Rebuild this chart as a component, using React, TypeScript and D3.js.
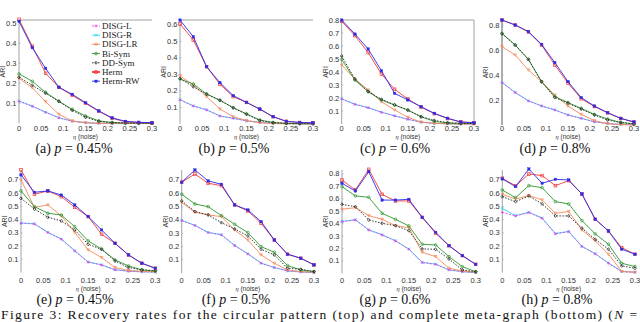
import React from "react";
import * as d3 from "d3";

// ---------- data ----------
const xs = [0, 0.03, 0.06, 0.09, 0.12, 0.15, 0.18, 0.21, 0.24, 0.27, 0.3];
const xTicks = [0, 0.05, 0.1, 0.15, 0.2, 0.25, 0.3];
const panelLetters = ["(a)", "(b)", "(c)", "(d)", "(e)", "(f)", "(g)", "(h)"];
const panelP = ["0.45%", "0.5%", "0.6%", "0.8%", "0.45%", "0.5%", "0.6%", "0.8%"];
const yTicksA = [0.1, 0.2, 0.3, 0.4, 0.5];
const yTicksB = [0.1, 0.2, 0.3, 0.4, 0.5, 0.6];
const yTicksC = [0.1, 0.2, 0.3, 0.4, 0.5, 0.6, 0.7, 0.8];
const yTicksD = [0.2, 0.4, 0.6, 0.8];
const yTicksE = [0.1, 0.2, 0.3, 0.4, 0.5, 0.6, 0.7];
const yTicksG = [0.1, 0.2, 0.3, 0.4, 0.5, 0.6, 0.7, 0.8];
const seriesNames = ["DISG-L", "DISG-R", "DISG-LR", "Bi-Sym", "DD-Sym", "Herm", "Herm-RW"];

const disgL = [
  [0.11, 0.085, 0.055, 0.027, 0.01, 0.003, 0, 0, 0, 0, 0],
  [0.145, 0.108, 0.084, 0.047, 0.033, 0.018, 0.008, 0.003, 0.001, 0, 0],
  [0.192, 0.151, 0.125, 0.09, 0.062, 0.036, 0.014, 0.005, 0.002, 0, 0],
  [0.339, 0.259, 0.192, 0.152, 0.12, 0.08, 0.053, 0.025, 0.012, 0.005, 0.003],
  [0.372, 0.367, 0.302, 0.252, 0.163, 0.078, 0.057, 0.02, 0.01, 0.005, 0.003],
  [0.395, 0.358, 0.305, 0.288, 0.208, 0.145, 0.075, 0.043, 0.018, 0.01, 0.005],
  [0.416, 0.43, 0.349, 0.309, 0.261, 0.194, 0.087, 0.073, 0.028, 0.014, 0.006],
  [0.455, 0.428, 0.453, 0.41, 0.292, 0.309, 0.196, 0.141, 0.07, 0.007, 0.002],
];
const disgR = [
  [0.112, 0.086, 0.056, 0.028, 0.011, 0.003, 0, 0, 0, 0, 0],
  [0.147, 0.109, 0.085, 0.048, 0.034, 0.018, 0.008, 0.003, 0.001, 0, 0],
  [0.194, 0.152, 0.126, 0.091, 0.063, 0.037, 0.014, 0.005, 0.002, 0, 0],
  [0.342, 0.261, 0.194, 0.153, 0.121, 0.081, 0.054, 0.026, 0.012, 0.005, 0.003],
  [0.375, 0.369, 0.304, 0.254, 0.165, 0.08, 0.058, 0.021, 0.01, 0.005, 0.003],
  [0.398, 0.36, 0.307, 0.29, 0.21, 0.147, 0.077, 0.044, 0.018, 0.01, 0.005],
  [0.419, 0.432, 0.351, 0.311, 0.263, 0.196, 0.089, 0.075, 0.029, 0.014, 0.006],
  [0.485, 0.43, 0.456, 0.412, 0.295, 0.311, 0.198, 0.143, 0.072, 0.008, 0.002],
];
const disgLR = [
  [0.225, 0.178, 0.108, 0.045, 0.012, 0.003, 0, 0, 0, 0, 0],
  [0.292, 0.235, 0.165, 0.09, 0.043, 0.02, 0.006, 0.002, 0, 0, 0],
  [0.454, 0.346, 0.262, 0.172, 0.108, 0.052, 0.015, 0.005, 0.002, 0, 0],
  [0.627, 0.56, 0.44, 0.347, 0.24, 0.152, 0.085, 0.035, 0.01, 0.003, 0],
  [0.7, 0.493, 0.511, 0.428, 0.304, 0.171, 0.113, 0.037, 0.015, 0.01, 0.005],
  [0.53, 0.458, 0.438, 0.425, 0.325, 0.25, 0.138, 0.075, 0.025, 0.013, 0.008],
  [0.516, 0.529, 0.465, 0.435, 0.384, 0.368, 0.17, 0.135, 0.041, 0.02, 0.009],
  [0.592, 0.556, 0.582, 0.549, 0.448, 0.461, 0.322, 0.239, 0.138, 0.007, 0.002],
];
const biSym = [
  [0.247, 0.21, 0.155, 0.11, 0.07, 0.037, 0.012, 0.004, 0.002, 0.001, 0],
  [0.272, 0.242, 0.181, 0.143, 0.098, 0.06, 0.023, 0.008, 0.003, 0.001, 0],
  [0.497, 0.338, 0.248, 0.185, 0.146, 0.108, 0.056, 0.02, 0.008, 0.005, 0.005],
  [0.733, 0.64, 0.525, 0.347, 0.227, 0.179, 0.133, 0.085, 0.048, 0.02, 0.01],
  [0.617, 0.498, 0.448, 0.435, 0.347, 0.239, 0.178, 0.095, 0.05, 0.02, 0.01],
  [0.593, 0.52, 0.5, 0.433, 0.368, 0.305, 0.2, 0.158, 0.058, 0.025, 0.013],
  [0.698, 0.623, 0.612, 0.483, 0.435, 0.382, 0.234, 0.229, 0.135, 0.054, 0.014],
  [0.624, 0.566, 0.657, 0.642, 0.536, 0.519, 0.393, 0.292, 0.214, 0.07, 0.045],
];
const ddSym = [
  [0.23, 0.19, 0.15, 0.11, 0.065, 0.03, 0.01, 0.003, 0.001, 0, 0],
  [0.275, 0.225, 0.18, 0.143, 0.097, 0.058, 0.02, 0.007, 0.003, 0.001, 0],
  [0.523, 0.345, 0.25, 0.19, 0.147, 0.106, 0.056, 0.028, 0.01, 0.005, 0.004],
  [0.73, 0.64, 0.525, 0.345, 0.22, 0.175, 0.128, 0.08, 0.04, 0.02, 0.008],
  [0.561, 0.48, 0.418, 0.39, 0.322, 0.213, 0.175, 0.087, 0.037, 0.02, 0.015],
  [0.543, 0.463, 0.438, 0.38, 0.333, 0.28, 0.18, 0.138, 0.038, 0.03, 0.013],
  [0.556, 0.537, 0.43, 0.403, 0.384, 0.344, 0.197, 0.194, 0.116, 0.028, 0.014],
  [0.574, 0.536, 0.579, 0.519, 0.428, 0.428, 0.335, 0.251, 0.176, 0.05, 0.032],
];
const herm = [
  [0.52, 0.385, 0.25, 0.18, 0.14, 0.1, 0.06, 0.025, 0.008, 0.004, 0.002],
  [0.606, 0.509, 0.347, 0.24, 0.165, 0.13, 0.088, 0.043, 0.015, 0.008, 0.006],
  [0.79, 0.68, 0.549, 0.385, 0.267, 0.192, 0.13, 0.08, 0.042, 0.016, 0.01],
  [0.84, 0.8, 0.745, 0.64, 0.48, 0.335, 0.21, 0.148, 0.097, 0.052, 0.024],
  [0.776, 0.592, 0.617, 0.574, 0.493, 0.423, 0.289, 0.221, 0.133, 0.07, 0.032],
  [0.683, 0.745, 0.675, 0.658, 0.513, 0.468, 0.375, 0.25, 0.143, 0.113, 0.063],
  [0.751, 0.671, 0.837, 0.636, 0.583, 0.583, 0.451, 0.323, 0.223, 0.143, 0.073],
  [0.713, 0.655, 0.745, 0.733, 0.657, 0.695, 0.594, 0.403, 0.314, 0.188, 0.138],
];
const hermRW = [
  [0.51, 0.378, 0.275, 0.18, 0.145, 0.103, 0.062, 0.027, 0.01, 0.005, 0.003],
  [0.63, 0.529, 0.347, 0.25, 0.171, 0.13, 0.09, 0.043, 0.015, 0.008, 0.006],
  [0.8, 0.692, 0.577, 0.41, 0.236, 0.185, 0.133, 0.082, 0.044, 0.015, 0.01],
  [0.84, 0.8, 0.747, 0.645, 0.5, 0.347, 0.219, 0.152, 0.099, 0.053, 0.024],
  [0.738, 0.607, 0.617, 0.586, 0.511, 0.423, 0.322, 0.221, 0.133, 0.07, 0.032],
  [0.683, 0.775, 0.693, 0.668, 0.513, 0.475, 0.388, 0.25, 0.143, 0.113, 0.063],
  [0.725, 0.663, 0.818, 0.59, 0.59, 0.596, 0.451, 0.331, 0.223, 0.143, 0.073],
  [0.708, 0.65, 0.783, 0.675, 0.705, 0.7, 0.594, 0.403, 0.314, 0.176, 0.138],
];

// ---------- styles / layout ----------
const seriesData = [disgR, disgL, disgLR, biSym, ddSym, herm, hermRW];
const seriesStyle = [
  { name: "DISG-R", color: "#22d8f0", dash: "", marker: "x" },
  { name: "DISG-L", color: "#f040f0", dash: "2,1.5", marker: "plus" },
  { name: "DISG-LR", color: "#f4885a", dash: "", marker: "tri" },
  { name: "Bi-Sym", color: "#2e962e", dash: "", marker: "circle" },
  { name: "DD-Sym", color: "#222222", dash: "1.5,1.5", marker: "diamond" },
  { name: "Herm", color: "#f03a3a", dash: "", marker: "square" },
  { name: "Herm-RW", color: "#2a2ae8", dash: "", marker: "fsquare" },
];
const legendOrder = ["DISG-L", "DISG-R", "DISG-LR", "Bi-Sym", "DD-Sym", "Herm", "Herm-RW"];

const panels = [
  { x0: 19, x1: 152, yZero: 123.3, px: 20, top: 20, ticks: yTicksA, capX: 74, box: "top" },
  { x0: 180, x1: 313, yZero: 123.8, px: 16.47, top: 20, ticks: yTicksB, capX: 234, box: "top" },
  { x0: 341.7, x1: 474, yZero: 124, px: 13, top: 20, ticks: yTicksC, capX: 395, box: "topright" },
  { x0: 502, x1: 634, yZero: 125, px: 12.5, top: 20, ticks: yTicksD, capX: 555, box: "thick" },
  { x0: 21, x1: 155.3, yZero: 272.5, px: 13.22, top: 170, ticks: yTicksE, capX: 75, box: "" },
  { x0: 181.7, x1: 314, yZero: 273.3, px: 13.33, top: 170, ticks: yTicksE, capX: 236, box: "" },
  { x0: 342, x1: 475.7, yZero: 273.4, px: 12.43, top: 170, ticks: yTicksG, capX: 395, box: "" },
  { x0: 502.3, x1: 635, yZero: 272.5, px: 13.22, top: 170, ticks: yTicksE, capX: 557, box: "" },
];

const sans = "Liberation Sans, Arial, sans-serif";
const serif = "Liberation Serif, Times New Roman, serif";

function Marker({ type, x, y, color }: { type: string; x: number; y: number; color: string }) {
  const s = 1.35;
  switch (type) {
    case "x":
      return <path d={`M${x - s},${y - s}L${x + s},${y + s}M${x - s},${y + s}L${x + s},${y - s}`} stroke={color} strokeWidth={0.8} />;
    case "plus":
      return <path d={`M${x - s},${y}L${x + s},${y}M${x},${y - s}L${x},${y + s}`} stroke={color} strokeWidth={0.8} />;
    case "tri":
      return <path d={`M${x - s},${y - s * 0.8}L${x + s},${y - s * 0.8}L${x},${y + s}Z`} fill="none" stroke={color} strokeWidth={0.7} />;
    case "circle":
      return <circle cx={x} cy={y} r={s} fill="none" stroke={color} strokeWidth={0.7} />;
    case "diamond":
      return <path d={`M${x},${y - s * 1.15}L${x + s},${y}L${x},${y + s * 1.15}L${x - s},${y}Z`} fill="none" stroke={color} strokeWidth={0.7} />;
    case "square":
      return <rect x={x - s} y={y - s} width={2 * s} height={2 * s} fill="none" stroke={color} strokeWidth={0.7} />;
    case "fsquare":
      return <rect x={x - 1.2} y={y - 1.2} width={2.4} height={2.4} fill={color} stroke={color} strokeWidth={0.4} />;
    default:
      return null;
  }
}

function Panel({ idx }: { idx: number }) {
  const p = panels[idx];
  const xScale = d3.scaleLinear().domain([0, 0.3]).range([p.x0, p.x1]);
  const yScale = d3.scaleLinear().domain([0, 0.1]).range([p.yZero, p.yZero - p.px]);
  const line = d3
    .line<number>()
    .x((_, i) => xScale(xs[i]))
    .y((d) => yScale(d));
  const bottom = p.yZero;
  const midY = (p.top + bottom) / 2;
  const isTop = idx < 4;
  const tickY = isTop ? 130.5 : 283;
  const etaY = isTop ? 139 : 290.5;
  const capY = isTop ? 153 : 304;
  return (
    <g>
      <line x1={p.x0} x2={p.x0} y1={p.top} y2={bottom} stroke={p.box === "thick" ? "#9a9a9a" : "#8a8a8a"} strokeWidth={p.box === "thick" ? 1.6 : 0.8} />
      {(p.box === "top" || p.box === "topright") && (
        <line x1={p.x0} x2={p.x1} y1={p.top} y2={p.top} stroke="#8a8a8a" strokeWidth={0.8} />
      )}
      {p.box === "topright" && <line x1={p.x1} x2={p.x1} y1={p.top} y2={bottom} stroke="#8a8a8a" strokeWidth={0.8} />}
      {p.ticks.map((t) => (
        <g key={"y" + t}>
          <line x1={p.x0} x2={p.x0 + 1.5} y1={yScale(t)} y2={yScale(t)} stroke="#888" strokeWidth={0.5} />
          <text x={p.x0 - 2.5} y={yScale(t) + 2.5} fontSize={7.5} fontFamily={sans} textAnchor="end" fill="#333">
            {String(t)}
          </text>
        </g>
      ))}
      {xTicks.map((t) => (
        <text key={"x" + t} x={xScale(t)} y={tickY} fontSize={7.5} fontFamily={sans} textAnchor="middle" fill="#333">
          {String(t)}
        </text>
      ))}
      <text x={(p.x0 + p.x1) / 2} y={etaY} fontSize={6.5} textAnchor="middle" fill="#333">
        <tspan fontFamily={serif} fontStyle="italic">η</tspan>
        <tspan fontFamily={sans}> (noise)</tspan>
      </text>
      <text
        transform={`translate(${p.x0 - 14},${midY}) rotate(-90)`}
        fontSize={7}
        fontFamily={sans}
        textAnchor="middle"
        fill="#333"
      >
        ARI
      </text>
      {seriesStyle.map((s, si) => {
        const vals = seriesData[si][idx];
        return (
          <g key={s.name}>
            <path d={line(vals) || ""} fill="none" stroke={s.color} strokeWidth={0.9} strokeDasharray={s.dash} />
            {vals.map((v, i) => (
              <Marker key={i} type={s.marker} x={xScale(xs[i])} y={yScale(v)} color={s.color} />
            ))}
          </g>
        );
      })}
      <text x={p.capX} y={capY} fontSize={14} fontFamily={serif} textAnchor="middle" fill="#111">
        {panelLetters[idx]}{" "}
        <tspan fontStyle="italic">p</tspan> = {panelP[idx]}
      </text>
    </g>
  );
}

function Legend() {
  const x0 = 92;
  const y0 = 26;
  const dy = 9.2;
  return (
    <g>
      <rect x={89} y={21} width={62} height={66} fill="#fff" />
      {legendOrder.map((name, i) => {
        const s = seriesStyle.find((d) => d.name === name)!;
        const y = y0 + i * dy;
        return (
          <g key={name}>
            <line x1={x0} x2={x0 + 8} y1={y} y2={y} stroke={s.color} strokeWidth={name === "Herm" ? 1.8 : 0.9} strokeDasharray={s.dash} />
            <Marker type={s.marker} x={x0 + 4} y={y} color={s.color} />
            <text x={x0 + 10} y={y + 3} fontSize={9} fontFamily={serif} fill="#222">
              {name}
            </text>
          </g>
        );
      })}
    </g>
  );
}

export default function App() {
  return (
    <svg
      width={640}
      height={322}
      viewBox="0 0 640 322"
      style={{ position: "absolute", left: 0, top: 0, background: "#fff" }}
    >
      <rect x={0} y={0} width={640} height={322} fill="#fff" />
      {panels.map((_, i) => (
        <Panel key={i} idx={i} />
      ))}
      <Legend />
      <text x={1} y={318.5} fontSize={13.5} fontFamily={serif} fill="#111" textLength={636} lengthAdjust="spacing">
        Figure 3:  Recovery rates for the circular pattern (top) and complete meta-graph (bottom) (
        <tspan fontStyle="italic">N</tspan> =
      </text>
    </svg>
  );
}
